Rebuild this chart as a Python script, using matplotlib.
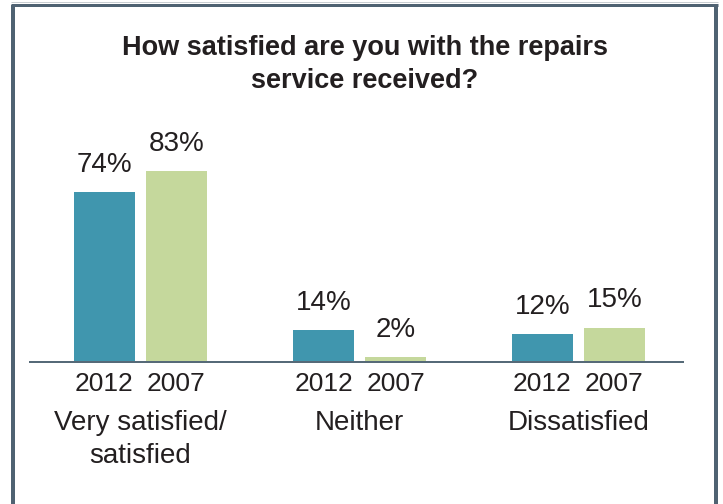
import matplotlib
matplotlib.use("Agg")
import matplotlib.pyplot as plt
import numpy as np
from matplotlib.lines import Line2D

plt.rcParams['font.family'] = ['Liberation Sans', 'DejaVu Sans']

# Survey data
title = "How satisfied are you with the repairs\nservice received?"
categories = ["Very satisfied/\nsatisfied", "Neither", "Dissatisfied"]
years = ["2012", "2007"]
values_2012 = [74, 14, 12]
values_2007 = [83, 2, 15]

c2012 = "#4096ae"
c2007 = "#c5d89c"
text_c = "#231f20"
frame_c = "#4f6272"

W, H = 723, 504
fig = plt.figure(figsize=(W / 100, H / 100), dpi=100)
fig.patch.set_facecolor("white")

# outer frame: left, top and right edges
fig.add_artist(Line2D([13 / W, 13 / W], [0, 1 - 4.5 / H], transform=fig.transFigure,
                      color=frame_c, lw=4 * 0.72, solid_capstyle="butt"))
fig.add_artist(Line2D([716 / W, 716 / W], [0, 1 - 4.5 / H], transform=fig.transFigure,
                      color=frame_c, lw=4 * 0.72, solid_capstyle="butt"))
fig.add_artist(Line2D([11 / W, 718 / W], [1 - 4.5 / H, 1 - 4.5 / H], transform=fig.transFigure,
                      color=frame_c, lw=3 * 0.72, solid_capstyle="butt"))
fig.add_artist(Line2D([11 / W, 718 / W], [1 - 2 / H, 1 - 2 / H], transform=fig.transFigure,
                      color="#c9ced2", lw=1 * 0.72, solid_capstyle="butt"))

ax = fig.add_axes([30 / W, 142 / H, 653 / W, 230 / H])
x = np.arange(len(categories))
bw = 61 / 219
off = (5.5 + 30.5) / 219

b1 = ax.bar(x - off, values_2012, bw, color=c2012, zorder=2)
b2 = ax.bar(x + off, values_2007, bw, color=c2007, zorder=2)

ax.set_xlim(-110.5 / 219, 542.5 / 219)
ax.set_ylim(0, 100)
for s in ["top", "left", "right"]:
    ax.spines[s].set_visible(False)
ax.spines["bottom"].set_color("#566a78")
ax.spines["bottom"].set_linewidth(2 * 0.72)
ax.spines["bottom"].set_zorder(3)
ax.set_yticks([])
ax.set_xticks([])

# value labels above bars
for bars, vals in ((b1, values_2012), (b2, values_2007)):
    for rect, v in zip(bars, vals):
        ax.annotate(f"{v}%", (rect.get_x() + rect.get_width() / 2, v),
                    xytext=(0, 14.5), textcoords="offset points",
                    ha="center", va="baseline", fontsize=20, color=text_c)

# year labels under each bar, category names beneath
for i in x:
    for pos, yr in ((i - off, years[0]), (i + off, years[1])):
        ax.annotate(yr, (pos, 0), xycoords=("data", "axes fraction"),
                    xytext=(0, -20.8), textcoords="offset points",
                    ha="center", va="baseline", fontsize=19, color=text_c)
    ax.annotate(categories[i], (i, 0), xycoords=("data", "axes fraction"),
                xytext=(0, -34.2), textcoords="offset points",
                ha="center", va="top", fontsize=20, color=text_c,
                linespacing=1.38)

fig.text(365 / W, 1 - 35 / H, title, ha="center", va="top",
         fontsize=19.5, fontweight="bold", color=text_c, linespacing=1.33)

fig.savefig("out.png", dpi=100)
